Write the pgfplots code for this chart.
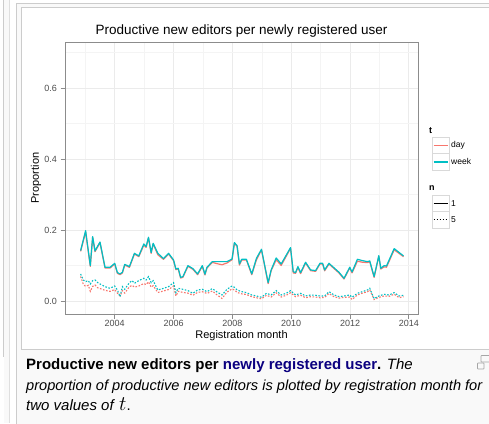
\documentclass[border=0pt]{standalone}
\usepackage{pgfplots}
\pgfplotsset{compat=1.18}
\usepackage{pgfplotstable}
\usepackage{fontspec}
\setmainfont{Liberation Sans}
\definecolor{ggred}{HTML}{F8766D}
\definecolor{ggteal}{HTML}{00BFC4}
\definecolor{linkblue}{HTML}{0B0080}
\definecolor{framebg}{HTML}{F9F9F9}
\definecolor{framegray}{HTML}{CCCCCC}
\definecolor{keygray}{HTML}{D9D9D9}
\definecolor{gridmaj}{HTML}{EBEBEB}
\definecolor{gridmin}{HTML}{F4F4F4}
\definecolor{ticktxt}{HTML}{4D4D4D}
\definecolor{panelborder}{HTML}{8C8C8C}

\pgfplotstableread{
x y
2002.841 0.1427
2003.011 0.1991
2003.170 0.1005
2003.250 0.1822
2003.330 0.1418
2003.500 0.1671
2003.670 0.0958
2003.841 0.0958
2004.000 0.1070
2004.091 0.0808
2004.182 0.0770
2004.261 0.0817
2004.341 0.1042
2004.500 0.0977
2004.670 0.1352
2004.818 0.1277
2004.989 0.1615
2005.068 0.1540
2005.148 0.1803
2005.239 0.1371
2005.307 0.1634
2005.466 0.1352
2005.659 0.1202
2005.830 0.1352
2006.000 0.1164
2006.080 0.0911
2006.159 0.0930
2006.239 0.0676
2006.318 0.0695
2006.489 0.1005
2006.659 0.0920
2006.818 0.0770
2006.977 0.1005
2007.068 0.0761
2007.136 0.0958
2007.318 0.1117
2007.477 0.1117
2007.648 0.1117
2007.818 0.1117
2007.989 0.1192
2008.068 0.1653
2008.159 0.1568
2008.239 0.1052
2008.318 0.1183
2008.477 0.1183
2008.659 0.0770
2008.818 0.1211
2008.989 0.1465
2009.216 0.0526
2009.318 0.0883
2009.489 0.1221
2009.659 0.1052
2009.977 0.1512
2010.068 0.0836
2010.148 0.0808
2010.227 0.0977
2010.318 0.0808
2010.489 0.1099
2010.659 0.0883
2010.830 0.0864
2010.977 0.1070
2011.068 0.1070
2011.136 0.0883
2011.284 0.1070
2011.625 0.0817
2011.795 0.0648
2011.989 0.0958
2012.068 0.0826
2012.250 0.1183
2012.420 0.1146
2012.591 0.1117
2012.670 0.1136
2012.818 0.0695
2012.977 0.1286
2013.045 0.0930
2013.159 0.1005
2013.239 0.0995
2013.500 0.1484
2013.818 0.1277
}\weekone

\pgfplotstableread{
x y
2002.841 0.1407
2003.011 0.1950
2003.170 0.0985
2003.250 0.1802
2003.330 0.1398
2003.500 0.1651
2003.670 0.0938
2003.841 0.0938
2004.000 0.1050
2004.091 0.0788
2004.182 0.0750
2004.261 0.0797
2004.341 0.1022
2004.500 0.0957
2004.670 0.1332
2004.818 0.1257
2004.989 0.1580
2005.068 0.1520
2005.148 0.1783
2005.239 0.1351
2005.307 0.1614
2005.466 0.1310
2005.659 0.1182
2005.830 0.1332
2006.000 0.1144
2006.080 0.0891
2006.159 0.0910
2006.239 0.0656
2006.318 0.0675
2006.489 0.0985
2006.659 0.0900
2006.818 0.0750
2006.977 0.0985
2007.068 0.0741
2007.136 0.0938
2007.318 0.1097
2007.477 0.1060
2007.648 0.1030
2007.818 0.1080
2007.989 0.1172
2008.068 0.1633
2008.159 0.1548
2008.239 0.1020
2008.318 0.1163
2008.477 0.1163
2008.659 0.0750
2008.818 0.1170
2008.989 0.1445
2009.216 0.0500
2009.318 0.0863
2009.489 0.1170
2009.659 0.1010
2009.977 0.1492
2010.068 0.0800
2010.148 0.0788
2010.227 0.0957
2010.318 0.0780
2010.489 0.1079
2010.659 0.0863
2010.830 0.0844
2010.977 0.1050
2011.068 0.1050
2011.136 0.0860
2011.284 0.1050
2011.625 0.0797
2011.795 0.0628
2011.989 0.0938
2012.068 0.0800
2012.250 0.1130
2012.420 0.1100
2012.591 0.1090
2012.670 0.1116
2012.818 0.0675
2012.977 0.1266
2013.045 0.0910
2013.159 0.0970
2013.239 0.0960
2013.500 0.1450
2013.818 0.1257
}\dayone

\pgfplotstableread{
x y
2002.841 0.0770
2002.932 0.0601
2003.011 0.0554
2003.102 0.0582
2003.170 0.0488
2003.250 0.0582
2003.330 0.0601
2003.420 0.0526
2003.500 0.0488
2003.670 0.0413
2003.841 0.0366
2004.000 0.0432
2004.091 0.0319
2004.182 0.0131
2004.261 0.0413
2004.341 0.0338
2004.500 0.0526
2004.591 0.0582
2004.670 0.0507
2004.818 0.0582
2004.989 0.0648
2005.068 0.0601
2005.148 0.0695
2005.239 0.0526
2005.307 0.0582
2005.466 0.0319
2005.659 0.0366
2005.830 0.0413
2006.000 0.0526
2006.080 0.0244
2006.159 0.0366
2006.318 0.0338
2006.489 0.0300
2006.659 0.0225
2006.818 0.0319
2006.977 0.0338
2007.136 0.0272
2007.318 0.0357
2007.477 0.0263
2007.648 0.0178
2007.818 0.0338
2007.989 0.0432
2008.068 0.0394
2008.159 0.0319
2008.318 0.0272
2008.477 0.0244
2008.659 0.0178
2008.818 0.0150
2008.989 0.0113
2009.159 0.0225
2009.318 0.0178
2009.489 0.0300
2009.659 0.0178
2009.830 0.0225
2009.977 0.0300
2010.148 0.0178
2010.318 0.0225
2010.489 0.0150
2010.659 0.0178
2010.830 0.0169
2010.977 0.0150
2011.136 0.0150
2011.284 0.0272
2011.455 0.0178
2011.625 0.0131
2011.795 0.0150
2011.989 0.0178
2012.068 0.0113
2012.250 0.0225
2012.420 0.0272
2012.591 0.0319
2012.670 0.0366
2012.818 0.0075
2012.977 0.0150
2013.159 0.0197
2013.330 0.0178
2013.500 0.0244
2013.670 0.0150
2013.818 0.0169
}\weekfive

\pgfplotstableread{
x y
2002.841 0.0700
2002.932 0.0480
2003.011 0.0420
2003.102 0.0450
2003.170 0.0280
2003.250 0.0420
2003.330 0.0460
2003.420 0.0380
2003.500 0.0360
2003.670 0.0310
2003.841 0.0280
2004.000 0.0330
2004.091 0.0230
2004.182 0.0150
2004.261 0.0300
2004.341 0.0230
2004.500 0.0410
2004.591 0.0450
2004.670 0.0400
2004.818 0.0430
2004.989 0.0500
2005.068 0.0470
2005.148 0.0550
2005.239 0.0400
2005.307 0.0440
2005.466 0.0250
2005.659 0.0290
2005.830 0.0330
2006.000 0.0430
2006.080 0.0150
2006.159 0.0280
2006.318 0.0250
2006.489 0.0230
2006.659 0.0170
2006.818 0.0250
2006.977 0.0270
2007.136 0.0220
2007.318 0.0290
2007.477 0.0180
2007.648 0.0080
2007.818 0.0260
2007.989 0.0350
2008.068 0.0320
2008.159 0.0250
2008.318 0.0210
2008.477 0.0190
2008.659 0.0130
2008.818 0.0100
2008.989 0.0070
2009.159 0.0170
2009.318 0.0120
2009.489 0.0240
2009.659 0.0120
2009.830 0.0170
2009.977 0.0240
2010.148 0.0130
2010.318 0.0170
2010.489 0.0100
2010.659 0.0130
2010.830 0.0120
2010.977 0.0100
2011.136 0.0110
2011.284 0.0220
2011.455 0.0130
2011.625 0.0090
2011.795 0.0110
2011.989 0.0120
2012.068 0.0050
2012.250 0.0180
2012.420 0.0230
2012.591 0.0270
2012.670 0.0320
2012.818 0.0050
2012.977 0.0110
2013.159 0.0150
2013.330 0.0140
2013.500 0.0200
2013.670 0.0100
2013.818 0.0130
}\dayfive

\begin{document}
\begin{tikzpicture}
\useasboundingbox (0pt,0pt) rectangle (489pt,-423pt);
\clip (0pt,0pt) rectangle (489pt,-423pt);
% page background and wiki frame
\fill[white] (0pt,0pt) rectangle (489pt,-423pt);
\fill[framebg] (3.5pt,0pt) rectangle (9.5pt,-423pt);
\draw[framegray,line width=0.9pt] (3.8pt,0pt) -- (3.8pt,-357pt);
\draw[gray!25,line width=0.8pt] (9.5pt,0pt) -- (9.5pt,-423pt);
\fill[framebg] (16pt,-3pt) rectangle (491pt,-424pt);
\draw[framegray,line width=1pt] (16.5pt,-424pt) -- (16.5pt,-3.5pt) -- (491pt,-3.5pt);
\fill[white] (21pt,-7pt) rectangle (491pt,-349pt);
\draw[framegray,line width=1pt] (491pt,-349.5pt) -- (21.5pt,-349.5pt) -- (21.5pt,-7.5pt) -- (491pt,-7.5pt);

\begin{axis}[
  at={(65pt,-314pt)}, anchor=south west,
  scale only axis, width=353pt, height=272pt,
  xmin=2002.31, xmax=2014.31, ymin=-0.0358, ymax=0.7304,
  xtick={2004,2006,...,2014}, ytick={0,0.2,0.4,0.6},
  minor xtick={2003,2005,...,2013}, minor ytick={0.1,0.3,0.5,0.7},
  grid=both,
  major grid style={gridmaj,line width=0.8pt},
  minor grid style={gridmin,line width=0.6pt},
  minor tick length=0pt,
  tick align=outside, major tick length=4.5pt,
  tick style={panelborder,line width=0.8pt},
  xtick pos=bottom, ytick pos=left,
  axis line style={panelborder,line width=0.9pt},
  /pgf/number format/assume math mode=true,
  xticklabel style={/pgf/number format/1000 sep={},font=\fontsize{9}{10}\selectfont,text=ticktxt,yshift=2pt},
  yticklabel style={/pgf/number format/fixed,/pgf/number format/fixed zerofill,/pgf/number format/precision=1,font=\fontsize{9}{10}\selectfont,text=ticktxt},
  title={Productive new editors per newly registered user},
  title style={at={(axis description cs:0.5,1.0294)},anchor=base,yshift=-6pt,font=\fontsize{13.5}{15}\selectfont,inner sep=0pt},
  xlabel={Registration month},
  xlabel style={at={(axis description cs:0.5,-0.0882)},anchor=base,yshift=-1pt,font=\fontsize{11}{12}\selectfont,inner sep=0pt},
  ylabel={Proportion},
  ylabel style={at={(axis description cs:-0.0822,0.5)},anchor=center,font=\fontsize{11}{12}\selectfont,inner sep=0pt},
  clip=false,
]
\addplot[ggred,line width=1.2pt,line join=round] table[x=x,y=y] {\dayone};
\addplot[ggteal,line width=1.2pt,line join=round] table[x=x,y=y] {\weekone};
\addplot[ggred,line width=1.1pt,dash pattern=on 1.6pt off 1.6pt] table[x=x,y=y] {\dayfive};
\addplot[ggteal,line width=1.1pt,dash pattern=on 1.6pt off 1.6pt] table[x=x,y=y] {\weekfive};
\end{axis}

% legend
\begin{scope}[font=\fontsize{8.5}{9}\selectfont]
\node[anchor=base west,inner sep=0pt,font=\fontsize{9}{10}\selectfont\bfseries] at (429pt,-133pt) {t};
\draw[keygray,fill=white,line width=0.6pt] (432pt,-137pt) rectangle (449pt,-153.5pt);
\draw[keygray,fill=white,line width=0.6pt] (432pt,-153.5pt) rectangle (449pt,-170pt);
\draw[color=ggred,line width=1.4pt] (433.5pt,-145.3pt) -- (447.5pt,-145.3pt);
\draw[color=ggteal,line width=1.4pt] (433.5pt,-161.8pt) -- (447.5pt,-161.8pt);
\node[anchor=west,inner sep=0pt] at (451pt,-145.3pt) {day};
\node[anchor=west,inner sep=0pt] at (451pt,-161.8pt) {week};
\node[anchor=base west,inner sep=0pt,font=\fontsize{9}{10}\selectfont\bfseries] at (429pt,-190pt) {n};
\draw[keygray,fill=white,line width=0.6pt] (432pt,-195pt) rectangle (449pt,-211.5pt);
\draw[keygray,fill=white,line width=0.6pt] (432pt,-211.5pt) rectangle (449pt,-228pt);
\draw[black,line width=1.1pt] (433.5pt,-203.3pt) -- (447.5pt,-203.3pt);
\draw[black,line width=0.9pt,dash pattern=on 1.6pt off 1.4pt] (433.5pt,-219.8pt) -- (447.5pt,-219.8pt);
\node[anchor=west,inner sep=0pt] at (451pt,-203.3pt) {1};
\node[anchor=west,inner sep=0pt] at (451pt,-219.8pt) {5};
\end{scope}

% caption
\node[anchor=base west,inner sep=0pt,font=\fontsize{15}{17}\selectfont] at (26pt,-369pt) {\textbf{Productive new editors per \textcolor{linkblue}{newly registered user}.} \textit{The}};
\node[anchor=base west,inner sep=0pt,font=\fontsize{14.6}{17}\selectfont] at (26pt,-390pt) {\textit{proportion of productive new editors is plotted by registration month for}};
\node[anchor=base west,inner sep=0pt,font=\fontsize{15}{17}\selectfont] at (26pt,-410pt) {\textit{two values of }{\fontsize{22}{22}\selectfont$t$}.};
% enlarge icon
\draw[gray!70,line width=0.8pt,rounded corners=0.6pt] (477.5pt,-363pt) rectangle (484pt,-369pt);
\draw[gray!70,line width=0.8pt,rounded corners=0.6pt] (481pt,-355.5pt) rectangle (490pt,-362pt);
\end{tikzpicture}
\end{document}
